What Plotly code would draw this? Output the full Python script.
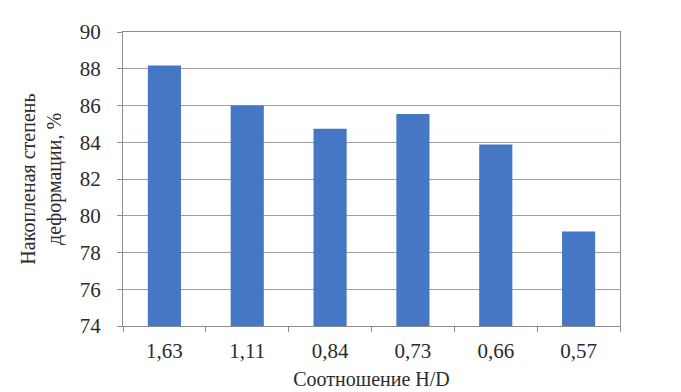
import plotly.graph_objects as go

categories = ["1,63", "1,11", "0,84", "0,73", "0,66", "0,57"]
values = [88.18, 86.0, 84.73, 85.54, 83.88, 79.14]
y_ticks = [74, 76, 78, 80, 82, 84, 86, 88, 90]

fig = go.Figure(go.Bar(x=categories, y=values, marker=dict(color="#4677C4", line=dict(width=0))))

font = "'Liberation Serif', 'DejaVu Serif', serif"
txt = "#2b2b2b"
fig.update_layout(
    width=681, height=392,
    margin=dict(l=115, r=69, t=19, b=74),
    paper_bgcolor="white", plot_bgcolor="white",
    bargap=0.6,
    showlegend=False,
    font=dict(family=font, color=txt, size=21),
    xaxis=dict(
        type="category",
        showline=True, linecolor="#8c8c8c", linewidth=1, mirror=True,
        ticks="outside", tickson="boundaries", ticklen=5, tickcolor="#8c8c8c",
        tickfont=dict(size=21, family=font, color=txt),
        ticklabelstandoff=6,
        showgrid=False,
        title=dict(text="Соотношение H/D", font=dict(size=20, family=font, color=txt), standoff=9),
    ),
    yaxis=dict(
        range=[74, 90], tickvals=y_ticks,
        showline=True, linecolor="#8c8c8c", linewidth=1, mirror=True,
        ticks="outside", ticklen=5, tickcolor="#8c8c8c",
        ticklabelstandoff=12,
        showgrid=True, gridcolor="#a89c98", gridwidth=1,
        tickfont=dict(size=21, family=font, color=txt),
        title=dict(text="Накопленая степень<br>деформации, %", font=dict(size=20, family=font, color=txt), standoff=12),
    ),
)

fig.write_html("out.html")
